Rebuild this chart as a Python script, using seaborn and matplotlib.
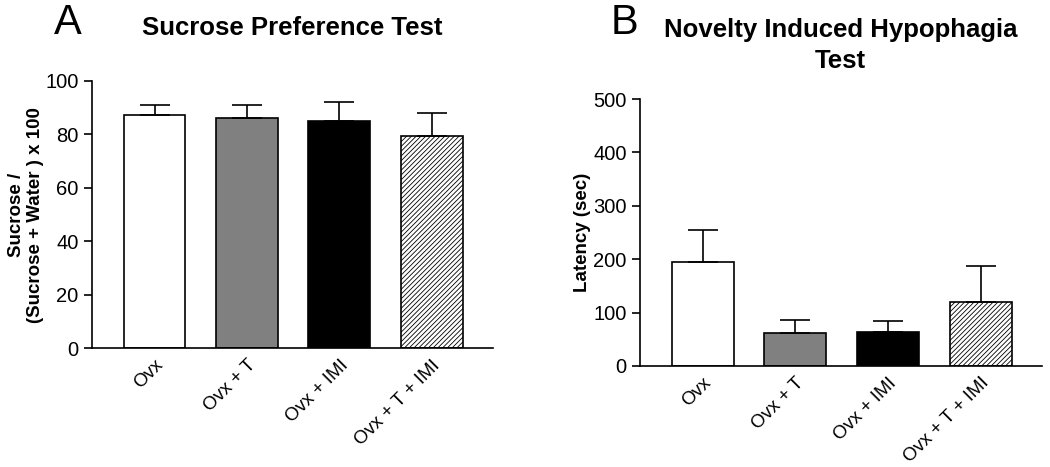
import numpy as np
import matplotlib
matplotlib.use("Agg")
import matplotlib.pyplot as plt
import seaborn as sns

groups = ["Ovx", "Ovx + T", "Ovx + IMI", "Ovx + T + IMI"]
sucrose = [87.4, 86.0, 85.0, 79.4]
sucrose_err = [3.5, 5.2, 7.2, 8.7]
latency = [195, 62, 63, 119]
latency_err = [60, 24, 22, 69]

colors = ["white", "#808080", "black", "white"]

sns.set_style("ticks", {"text.color": "black", "axes.labelcolor": "black",
                        "xtick.color": "black", "ytick.color": "black",
                        "axes.edgecolor": "black"})
plt.rcParams["font.family"] = ["Liberation Sans", "DejaVu Sans"]
plt.rcParams["hatch.linewidth"] = 0.6
plt.rcParams["hatch.color"] = "#333333"

fig = plt.figure(figsize=(10.5, 4.67), dpi=100)
axA = fig.add_axes([0.0873, 0.254, 0.382, 0.5726])
axB = fig.add_axes([0.6095, 0.2163, 0.3825, 0.5717])


def draw_panel(ax, vals, errs, ylim, yticks, ylabel, title, title_y, labelpad):
    sns.barplot(x=groups, y=vals, hue=groups, palette=colors, width=0.67,
                edgecolor="black", linewidth=1.2, legend=False, ax=ax)
    ax.patches[3].set_hatch("///////")
    ax.errorbar(np.arange(len(vals)), vals, yerr=[np.zeros(len(vals)), errs],
                fmt="none", ecolor="black", elinewidth=1.2, capsize=11,
                capthick=1.2, zorder=1)
    ax.set_xlim(-0.68, 3.66)
    ax.set_ylim(*ylim)
    ax.set_yticks(yticks)
    ax.tick_params(axis="y", labelsize=14.5, length=6, width=1.2, color="black",
                   labelcolor="black")
    ax.tick_params(axis="x", length=0, labelsize=13.5, pad=6, labelcolor="black")
    plt.setp(ax.get_xticklabels(), rotation=45, ha="right",
             rotation_mode="anchor")
    ax.set_ylabel(ylabel, fontsize=13.5, fontweight="bold", linespacing=1.15,
                  color="black", labelpad=labelpad)
    fig.text((ax.get_position().x0 + ax.get_position().x1) / 2, title_y, title,
             fontsize=18.5, fontweight="bold", ha="center", va="top",
             linespacing=1.4, color="black")
    for s in ["top", "right"]:
        ax.spines[s].set_visible(False)
    for s in ["left", "bottom"]:
        ax.spines[s].set_linewidth(1.2)
        ax.spines[s].set_color("black")


draw_panel(axA, sucrose, sucrose_err, (0, 100), [0, 20, 40, 60, 80, 100],
           "Sucrose /\n(Sucrose + Water ) x 100", "Sucrose Preference Test",
           0.966, 0.5)
draw_panel(axB, latency, latency_err, (0, 500), [0, 100, 200, 300, 400, 500],
           "Latency (sec)", "Novelty Induced Hypophagia\nTest", 0.962, 1.5)

fig.text(0.065, 0.95, "A", fontsize=30, va="center", ha="center")
fig.text(0.595, 0.95, "B", fontsize=30, va="center", ha="center")

fig.savefig("out.png", dpi=100, facecolor="white")
